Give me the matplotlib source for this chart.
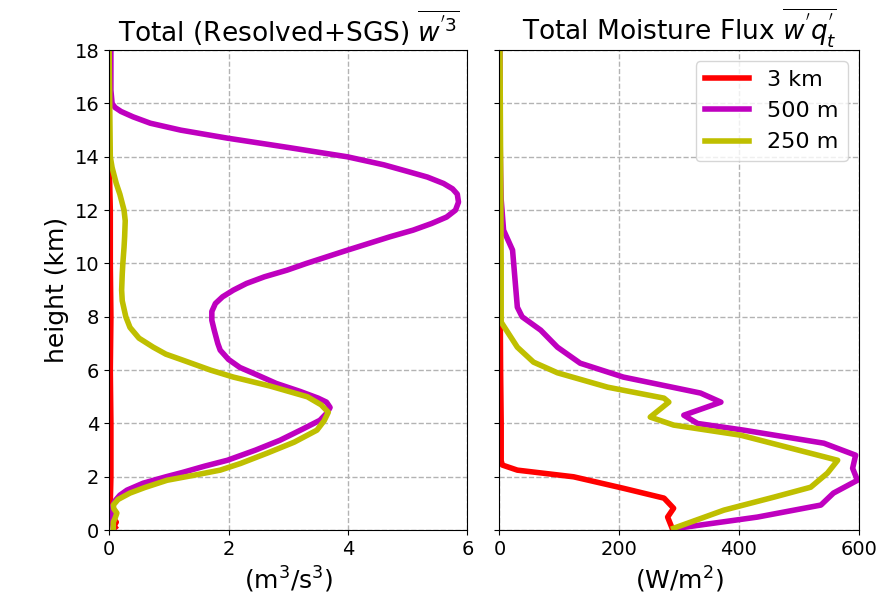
import matplotlib
matplotlib.use("Agg")
import matplotlib.pyplot as plt

# heights (km) and values
# left panel: total w'^3 (m3/s3)
h_w3_500 = [18.0, 16.5, 16.0, 15.85, 15.7, 15.5, 15.26, 15.0, 14.7, 14.35, 14.0, 13.7, 13.45, 13.24,
            13.0, 12.8, 12.6, 12.3, 12.0, 11.74, 11.5, 11.25, 11.0, 10.5, 10.0, 9.75, 9.5, 9.25,
            9.0, 8.75, 8.5, 8.2, 7.87, 7.5, 7.0, 6.75, 6.4, 6.1, 5.8, 5.5, 5.2, 4.95, 4.8, 4.6,
            4.4, 4.12, 3.8, 3.37, 3.0, 2.62, 2.4, 2.17, 2.0, 1.76, 1.5, 1.31, 1.1, 0.86, 0.6,
            0.37, 0.1]
w3_500 = [0.03, 0.03, 0.05, 0.1, 0.2, 0.4, 0.69, 1.2, 1.98, 3.0, 3.99, 4.6, 5.0, 5.33,
          5.6, 5.75, 5.83, 5.85, 5.8, 5.65, 5.4, 5.09, 4.7, 3.99, 3.3, 2.98, 2.6, 2.3,
          2.08, 1.9, 1.78, 1.72, 1.72, 1.76, 1.82, 1.86, 2.0, 2.19, 2.5, 2.8, 3.2, 3.5, 3.64, 3.7,
          3.65, 3.53, 3.25, 2.86, 2.45, 1.98, 1.6, 1.24, 0.95, 0.57, 0.3, 0.18, 0.1, 0.05, 0.04,
          0.05, 0.07]

h_w3_250 = [18.0, 14.0, 13.6, 13.0, 12.6, 12.0, 11.6, 11.0, 10.6, 10.0, 9.6, 9.0, 8.6, 8.0,
            7.6, 7.2, 6.86, 6.6, 6.37, 6.0, 5.74, 5.4, 5.0, 4.7, 4.42, 4.1, 3.75, 3.3, 2.89,
            2.5, 2.25, 2.05, 1.87, 1.6, 1.39, 1.15, 0.94, 0.8, 0.64, 0.45, 0.3, 0.1]
w3_250 = [0.0, 0.02, 0.05, 0.12, 0.18, 0.25, 0.27, 0.26, 0.25, 0.23, 0.22, 0.21, 0.22, 0.28,
          0.35, 0.5, 0.74, 0.95, 1.24, 1.7, 2.08, 2.7, 3.32, 3.55, 3.67, 3.6, 3.48, 3.1, 2.65,
          2.2, 1.86, 1.4, 0.97, 0.6, 0.35, 0.15, 0.07, 0.08, 0.13, 0.1, 0.07, 0.07]

h_w3_3km = [14.0, 12.0, 10.0, 8.0, 6.0, 4.0, 2.0, 1.0, 0.5, 0.3, 0.15, 0.1]
w3_3km = [0.0, 0.02, 0.02, 0.03, 0.02, 0.03, 0.03, 0.02, 0.05, 0.12, 0.08, 0.1]

# right panel: total moisture flux (W/m2)
h_q_500 = [18.0, 15.0, 13.4, 12.4, 11.25, 10.5, 8.36, 8.0, 7.5, 6.86, 6.26, 5.74, 5.14, 4.8,
           4.31, 4.0, 3.75, 3.26, 2.81, 2.32, 1.87, 1.39, 0.94, 0.49, 0.07]
q_500 = [1, 1, 2, 3, 7, 22, 30, 38, 69, 97, 135, 207, 336, 370,
         308, 331, 408, 542, 595, 590, 598, 558, 537, 431, 297]

h_q_250 = [18.0, 14.0, 10.0, 8.5, 7.8, 6.86, 6.3, 5.9, 5.36, 4.95, 4.8, 4.24, 3.94, 3.56,
           2.62, 2.14, 1.61, 1.24, 0.75, 0.07]
q_250 = [1, 2, 3, 3, 3, 30, 57, 97, 181, 275, 283, 252, 291, 403,
         565, 548, 520, 459, 375, 291]

h_q_3km = [14.0, 10.0, 6.0, 4.0, 2.6, 2.44, 2.25, 2.0, 1.57, 1.2, 0.82, 0.49, 0.1]
q_3km = [0, 1, 2, 3, 3, 5, 30, 124, 207, 275, 291, 281, 288]

labels = ['3 km', '500 m', '250 m']
colors = ['r', 'm', 'y']

fig = plt.figure(figsize=(8.87, 5.97), dpi=100)
ax1 = fig.add_axes([0.123, 0.112, 0.404, 0.804])
ax2 = fig.add_axes([0.563, 0.112, 0.405, 0.804], sharey=ax1)

lw = 4
ax1.plot(w3_3km, h_w3_3km, color=colors[0], lw=lw, label=labels[0])
ax1.plot(w3_500, h_w3_500, color=colors[1], lw=lw, label=labels[1])
ax1.plot(w3_250, h_w3_250, color=colors[2], lw=lw, label=labels[2])

ax2.plot(q_3km, h_q_3km, color=colors[0], lw=lw, label=labels[0])
ax2.plot(q_500, h_q_500, color=colors[1], lw=lw, label=labels[1])
ax2.plot(q_250, h_q_250, color=colors[2], lw=lw, label=labels[2])

ax1.set_xlim(0, 6)
ax1.set_ylim(0, 18)
ax1.set_xticks([0, 2, 4, 6])
ax1.set_yticks(range(0, 19, 2))
ax2.set_xlim(0, 600)
ax2.set_xticks([0, 200, 400, 600])
plt.setp(ax2.get_yticklabels(), visible=False)

ax1.set_title(r"Total (Resolved+SGS) $\overline{w^{'3}}$", fontsize=19)
ax2.set_title(r"Total Moisture Flux $\overline{w^{'}q_t^{'}}$", fontsize=19)
ax1.set_ylabel('height (km)', fontsize=18)
ax1.set_xlabel(r'(m$^3$/s$^3$)', fontsize=18)
ax2.set_xlabel(r'(W/m$^2$)', fontsize=18)

for ax in (ax1, ax2):
    ax.grid(True, ls='--', color='0.7', lw=1)
    ax.tick_params(labelsize=14)

ax2.legend(loc='upper right', fontsize=16)

fig.savefig('out.png', dpi=100)
